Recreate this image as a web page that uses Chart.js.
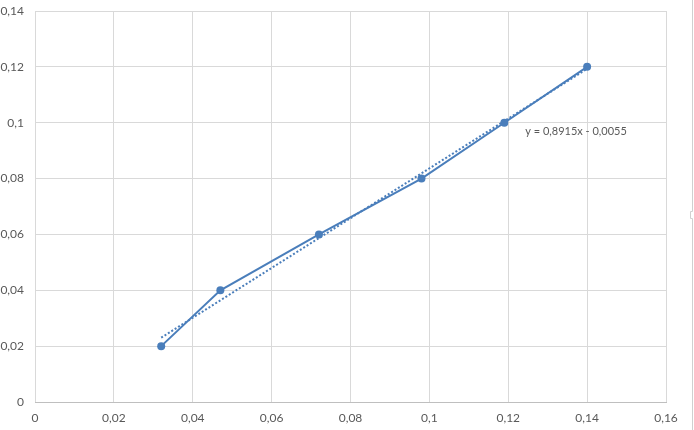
<!DOCTYPE html>
<html>
<head>
<meta charset="utf-8">
<script src="https://cdn.jsdelivr.net/npm/chart.js@4.4.1/dist/chart.umd.min.js"></script>
<style>
  body { margin: 0; background: #fff; }
  canvas { display: block; }
</style>
</head>
<body>
<canvas id="myScatter" width="694" height="430"></canvas>
<script>
// values
var xValues = [0.032, 0.047, 0.072, 0.098, 0.119, 0.14];
var yValues = [0.02, 0.04, 0.06, 0.08, 0.10, 0.12];
// linear trendline shown on the chart: y = 0,8915x - 0,0055
var trendSlope = 0.8915;
var trendIntercept = -0.0055;
var trendLabel = 'y = 0,8915x - 0,0055';

var xTicks = { min: 0, max: 0.16, step: 0.02 };
var yTicks = { min: 0, max: 0.14, step: 0.02 };

var blue = '#4a7ebb';
var gridColor = '#d9d9d9';
var textColor = '#595959';

var points = xValues.map(function (x, i) { return { x: x, y: yValues[i] }; });
var xLo = Math.min.apply(null, xValues), xHi = Math.max.apply(null, xValues);
var trendPoints = [
    { x: xLo, y: trendSlope * xLo + trendIntercept },
    { x: xHi, y: trendSlope * xHi + trendIntercept }
];

function commaLabel(v) {
    return Number(v.toFixed(2)).toString().replace('.', ',');
}

// trendline equation text + the little frame edge on the right
var extras = {
    id: 'extras',
    afterDatasetsDraw: function (chart) {
        var c = chart.ctx;
        var xs = chart.scales.x, ys = chart.scales.y;
        c.save();
        c.fillStyle = textColor;
        c.font = '11px Lato';
        c.textAlign = 'left';
        c.textBaseline = 'middle';
        c.fillText(trendLabel, xs.getPixelForValue(0.1243), ys.getPixelForValue(0.0970));
        // frame edge with small handle
        c.strokeStyle = '#d0d0d0';
        c.lineWidth = 1;
        c.beginPath();
        c.moveTo(692.5, 0);
        c.lineTo(692.5, 211.5);
        c.lineTo(690.5, 211.5);
        c.lineTo(690.5, 218.5);
        c.lineTo(692.5, 218.5);
        c.lineTo(692.5, 430);
        c.stroke();
        c.restore();
    }
};

var ctx = document.getElementById('myScatter').getContext('2d');
var myScatter = new Chart(ctx, {
    type: 'scatter',
    data: {
        datasets: [{
            data: trendPoints,
            showLine: true,
            borderColor: blue,
            borderWidth: 2,
            borderDash: [2, 2],
            pointRadius: 0,
            fill: false
        }, {
            data: points,
            showLine: true,
            borderColor: blue,
            backgroundColor: blue,
            borderWidth: 2,
            pointRadius: 4,
            pointBorderWidth: 0,
            fill: false
        }]
    },
    options: {
        responsive: false,
        animation: false,
        layout: { padding: { top: 11, right: 28, left: 0, bottom: 0 } },
        scales: {
            x: {
                type: 'linear',
                min: xTicks.min,
                max: xTicks.max,
                afterFit: function (s) { s.height = 28; s.paddingLeft = 0; s.paddingRight = 0; },
                grid: { color: gridColor, drawTicks: false },
                border: { color: '#bfbfbf' },
                ticks: {
                    stepSize: xTicks.step,
                    padding: 9,
                    color: textColor,
                    font: { family: 'Lato', size: 12 },
                    maxRotation: 0,
                    callback: commaLabel
                }
            },
            y: {
                min: yTicks.min,
                max: yTicks.max,
                afterFit: function (s) { s.width = 35; s.paddingTop = 0; s.paddingBottom = 0; },
                grid: { color: gridColor, drawTicks: false },
                border: { display: false },
                ticks: {
                    stepSize: yTicks.step,
                    padding: 11,
                    color: textColor,
                    font: { family: 'Lato', size: 12 },
                    callback: commaLabel
                }
            }
        },
        plugins: {
            legend: { display: false },
            title: { display: false },
            tooltip: { enabled: false }
        }
    },
    plugins: [extras]
});
</script>
</body>
</html>
